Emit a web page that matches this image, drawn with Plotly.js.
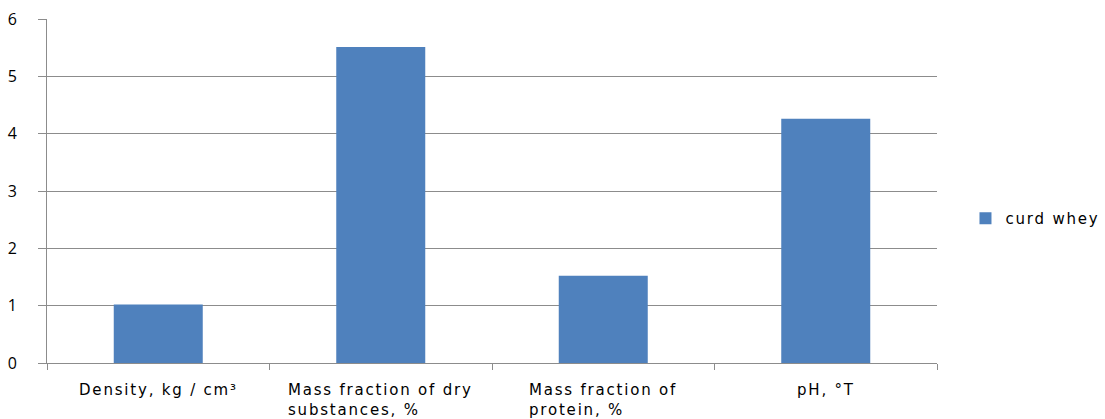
<!DOCTYPE html>
<html><head><meta charset="utf-8">
<script src="https://cdn.plot.ly/plotly-3.0.1.min.js"></script>
<style>
html,body{margin:0;padding:0;background:#fff}#chart{width:1105px;height:419px}
.annotation-text, .legendtext{letter-spacing:1.8px}
</style>
</head><body><div id="chart"></div>
<script>
const categories = ["Density, kg / cm³", "Mass fraction of dry<br>substances, %", "Mass fraction of<br>protein, %", "pH, °T"];
const seriesName = "curd whey";
const values = [1.02, 5.51, 1.52, 4.26];
const yTicks = [0, 1, 2, 3, 4, 5, 6];

const FONT = "DejaVu Sans, sans-serif";
const TICKFONT = "Open Sans, DejaVu Sans, sans-serif";
const GRID = "#8c8c8c";

const trace = {
  type: "bar", x: categories.map((c,i)=>i), y: values, name: seriesName,
  marker: {color: "#4F81BD", line: {width: 0}}, width: 0.4, showlegend: true
};

const annotations = categories.map((c,i)=>({
  x: i, xref: "x", y: 0, yref: "paper", yshift: -16, yanchor: "top", xanchor: "center",
  text: c, showarrow: false, align: "left", font: {family: FONT, size: 15, color: "#000"}
}));

const layout = {
  width: 1105, height: 419,
  margin: {l: 47, r: 168, t: 19, b: 56, pad: 0, autoexpand: false},
  paper_bgcolor: "#fff", plot_bgcolor: "#fff",
  font: {family: FONT, size: 15, color: "#000"},
  bargap: 0.6,
  xaxis: {
    range: [-0.5, 3.5], tickvals: [-0.5, 0.5, 1.5, 2.5, 3.5], showticklabels: false,
    ticks: "outside", ticklen: 6, tickcolor: GRID, showline: true, linecolor: GRID, linewidth: 1,
    showgrid: false, zeroline: false, fixedrange: true, automargin: false
  },
  yaxis: {
    range: [0, 6], tickvals: yTicks, ticktext: yTicks.map(String),
    ticks: "outside", ticklen: 8, tickcolor: GRID, ticklabelstandoff: 18,
    showline: true, linecolor: GRID, linewidth: 1,
    showgrid: true, gridcolor: GRID, gridwidth: 1, zeroline: false, automargin: false,
    tickfont: {family: TICKFONT, size: 16, color: "#000"}
  },
  legend: {
    x: 1.032, y: 0.42, xanchor: "left", yanchor: "middle",
    font: {family: FONT, size: 15, color: "#000"}, itemwidth: 30, bgcolor: "rgba(0,0,0,0)"
  },
  annotations: annotations
};

Plotly.newPlot("chart", [trace], layout, {displayModeBar: false, staticPlot: true});
</script></body></html>
